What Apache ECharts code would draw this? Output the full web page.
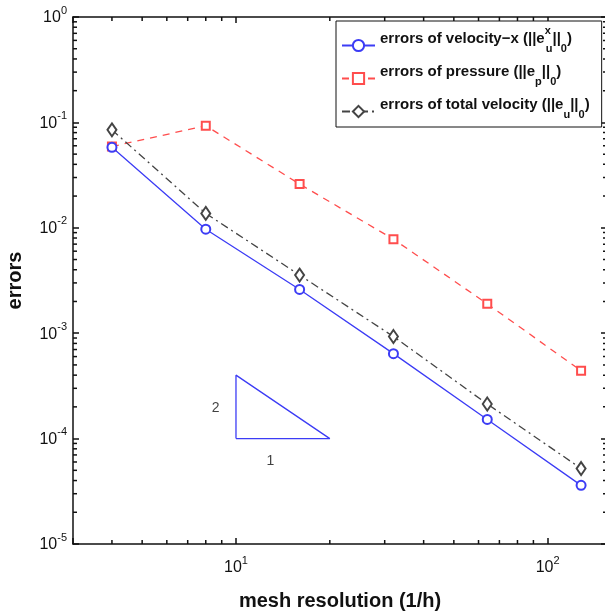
<!DOCTYPE html>
<html><head><meta charset="utf-8">
<script src="https://cdn.jsdelivr.net/npm/echarts@6/dist/echarts.min.js"></script>
<style>html,body{margin:0;padding:0;background:#fff}#c{width:605px;height:612px}</style>
</head><body><div id="c"></div>
<script>
// ---- data ----
const meshX = [4, 8, 16, 32, 64, 128];
const errVelX = [0.058, 0.0097, 0.0026, 0.00064, 0.000152, 0.000036];
const errPressure = [0.059, 0.093, 0.026, 0.0078, 0.0019, 0.00044];
const errTotalVel = [0.085, 0.0137, 0.00356, 0.00093, 0.000213, 0.000052];
const slopeX = [10, 10, 20, 10];
const slopeY = [1e-4, 4e-4, 1e-4, 1e-4];
const slopeLabelX = [8.6, 12.9];
const slopeLabelY = [1.95e-4, 6.1e-5];
const slopeLabelText = ['2', '1'];
const xMinorTicks = [4, 5, 6, 7, 8, 9, 20, 30, 40, 50, 60, 70, 80, 90];
const yDecades = [1e-5, 1e-4, 1e-3, 1e-2, 1e-1];
const yMults = [2, 3, 4, 5, 6, 7, 8, 9];
const seriesNames = ['errors of velocity-x', 'errors of pressure', 'errors of total velocity'];
const legendRich = {
  'errors of velocity-x': '{t|errors of velocity\u2212x (||e}{sp|x}{sb|u}{t|||}{sb|0}{t|)}',
  'errors of pressure': '{t|errors of pressure (||e}{sb|p}{t|||}{sb|0}{t|)}',
  'errors of total velocity': '{t|errors of total velocity (||e}{sb|u}{t|||}{sb|0}{t|)}'
};
const xMin = 3, xMax = 155, yMin = 1e-5, yMax = 1;

const yMinorTicks = [];
yDecades.forEach(d => yMults.forEach(m => yMinorTicks.push(d * m)));

const FONT = 'Liberation Sans, Arial, sans-serif';
const isPow = v => Math.abs(Math.log10(v) - Math.round(Math.log10(v))) < 1e-6;
const powLabel = v => isPow(v) ? '{b|10}{s|' + Math.round(Math.log10(v)) + '}' : '';
const labelRich = {
  b: {fontSize: 16, lineHeight: 18, fontFamily: FONT, color: '#111', verticalAlign: 'bottom'},
  s: {fontSize: 11, lineHeight: 12, fontFamily: FONT, color: '#111', verticalAlign: 'bottom', padding: [0, 0, 10, 0]}
};
const axisCommon = {
  type: 'log', logBase: 10,
  axisLine: {show: true, lineStyle: {color: '#111', width: 1.5}},
  axisTick: {show: true, inside: true, length: 6, lineStyle: {color: '#111', width: 1.5}},
  splitLine: {show: false}
};

const chart = echarts.init(document.getElementById('c'));
const tickStyle = {stroke: '#111', lineWidth: 1.5};

chart.setOption({
  animation: false,
  backgroundColor: '#fff',
  grid: {left: 73, right: -2, top: 17, bottom: 68, containLabel: false, outerBoundsMode: 'none'},
  legend: {
    data: seriesNames,
    orient: 'vertical',
    left: 336, top: 21,
    padding: [4, 12, 7, 5],
    itemGap: 5,
    itemWidth: 33, itemHeight: 14,
    borderColor: '#111', borderWidth: 1,
    backgroundColor: '#fff',
    formatter: n => legendRich[n],
    textStyle: {
      rich: {
        t: {fontSize: 15, fontWeight: 'bold', fontFamily: FONT, color: '#111', lineHeight: 17, verticalAlign: 'bottom', padding: [5, 0, 8, 0]},
        sb: {fontSize: 11, fontWeight: 'bold', fontFamily: FONT, color: '#111', lineHeight: 12, verticalAlign: 'bottom'},
        sp: {fontSize: 11, fontWeight: 'bold', fontFamily: FONT, color: '#111', lineHeight: 12, verticalAlign: 'bottom', padding: [0, 0, 18, 0], width: 1}
      }
    }
  },
  xAxis: [
    Object.assign({}, axisCommon, {
      min: xMin, max: xMax, position: 'bottom',
      name: 'mesh resolution (1/h)', nameLocation: 'middle', nameGap: 47,
      nameTextStyle: {fontSize: 20, fontWeight: 'bold', fontFamily: FONT, color: '#111'},
      axisLabel: {formatter: powLabel, rich: labelRich, margin: 14, showMinLabel: true, showMaxLabel: true}
    }),
    Object.assign({}, axisCommon, {min: xMin, max: xMax, position: 'top', axisLabel: {show: false}})
  ],
  yAxis: [
    Object.assign({}, axisCommon, {
      min: yMin, max: yMax, position: 'left',
      name: 'errors', nameLocation: 'middle', nameGap: 48, nameRotate: 90,
      nameTextStyle: {fontSize: 20, fontWeight: 'bold', fontFamily: FONT, color: '#111'},
      axisLabel: {formatter: powLabel, rich: labelRich, margin: 6}
    }),
    Object.assign({}, axisCommon, {min: yMin, max: yMax, position: 'right', axisLabel: {show: false}})
  ],
  series: [
    {
      name: seriesNames[0], type: 'line', data: meshX.map((x, i) => [x, errVelX[i]]),
      symbol: 'emptyCircle', symbolSize: 9,
      lineStyle: {color: '#3c3cf5', width: 1.3},
      itemStyle: {color: '#3c3cf5', borderWidth: 1.3}, z: 4
    },
    {
      name: seriesNames[1], type: 'line', data: meshX.map((x, i) => [x, errPressure[i]]),
      symbol: 'emptyRect', symbolSize: 8,
      lineStyle: {color: '#ff4d4d', width: 1.3, type: [7, 6]},
      itemStyle: {color: '#ff4d4d', borderWidth: 1.3}, z: 3
    },
    {
      name: seriesNames[2], type: 'line', data: meshX.map((x, i) => [x, errTotalVel[i]]),
      symbol: 'emptyDiamond', symbolSize: [9, 13],
      lineStyle: {color: '#444', width: 1.3, type: [8, 4, 2, 4]},
      itemStyle: {color: '#444', borderWidth: 1.3}, z: 3
    },
    {
      name: 'slope', type: 'line', data: slopeX.map((x, i) => [x, slopeY[i]]),
      symbol: 'none', silent: true,
      lineStyle: {color: '#3c3cf5', width: 1.3}
    },
    {
      name: 'slopeText', type: 'scatter', silent: true, symbolSize: 0,
      data: slopeLabelX.map((x, i) => [x, slopeLabelY[i], slopeLabelText[i]]),
      label: {show: true, position: 'inside', formatter: p => p.value[2], fontSize: 14, fontFamily: FONT, color: '#111'}
    },
    {
      name: 'xMinor', type: 'custom', silent: true, clip: false, z: 10,
      data: xMinorTicks.map(v => [v, 1e-2]),
      renderItem: (params, api) => {
        const x = api.coord([api.value(0), 1e-2])[0];
        const cs = params.coordSys;
        return {type: 'group', children: [
          {type: 'line', shape: {x1: x, y1: cs.y + cs.height, x2: x, y2: cs.y + cs.height - 4}, style: tickStyle},
          {type: 'line', shape: {x1: x, y1: cs.y, x2: x, y2: cs.y + 4}, style: tickStyle}
        ]};
      }
    },
    {
      name: 'yMinor', type: 'custom', silent: true, clip: false, z: 10,
      data: yMinorTicks.map(v => [10, v]),
      renderItem: (params, api) => {
        const y = api.coord([10, api.value(1)])[1];
        const cs = params.coordSys;
        return {type: 'group', children: [
          {type: 'line', shape: {x1: cs.x, y1: y, x2: cs.x + 4, y2: y}, style: tickStyle},
          {type: 'line', shape: {x1: cs.x + cs.width, y1: y, x2: cs.x + cs.width - 4, y2: y}, style: tickStyle}
        ]};
      }
    }
  ]
});
</script>
</body></html>
